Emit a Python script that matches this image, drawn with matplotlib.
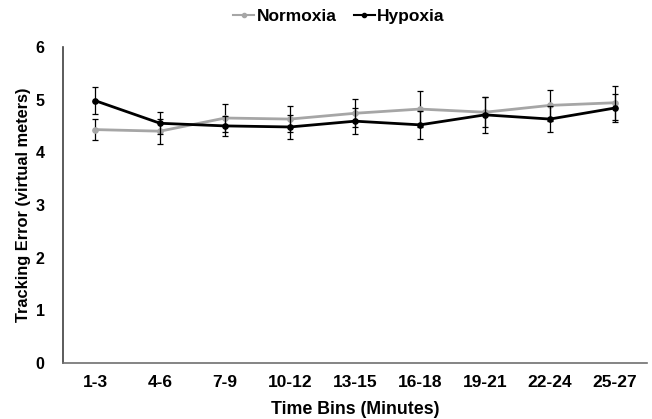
import numpy as np
import matplotlib
matplotlib.use("Agg")
import matplotlib.pyplot as plt
from matplotlib.lines import Line2D

plt.rcParams['font.family'] = ['Liberation Sans', 'DejaVu Sans']
plt.rcParams['font.weight'] = 'bold'

bins = ["1-3", "4-6", "7-9", "10-12", "13-15", "16-18", "19-21", "22-24", "25-27"]
normoxia = [4.43, 4.40, 4.65, 4.63, 4.74, 4.82, 4.76, 4.89, 4.94]
normoxia_err = [0.20, 0.24, 0.26, 0.25, 0.27, 0.35, 0.29, 0.29, 0.32]
hypoxia = [4.98, 4.55, 4.50, 4.48, 4.59, 4.52, 4.71, 4.63, 4.84]
hypoxia_err = [0.26, 0.21, 0.19, 0.23, 0.25, 0.26, 0.34, 0.25, 0.26]

gray = '#A6A6A6'

fig = plt.figure(figsize=(6.52, 4.19), dpi=100)
ax = fig.add_axes([0.096, 0.134, 0.897, 0.754])

x = np.arange(len(bins)) + 0.5

ax.errorbar(x, normoxia, yerr=normoxia_err, color=gray, ecolor='black',
            elinewidth=0.9, capsize=2.2, capthick=0.9, lw=2, marker='o', ms=3.8,
            zorder=3)
ax.errorbar(x, hypoxia, yerr=hypoxia_err, color='black', ecolor='black',
            elinewidth=0.9, capsize=2.2, capthick=0.9, lw=2, marker='o', ms=3.8,
            zorder=4)

ax.set_xlim(0, len(bins))
ax.set_ylim(0, 6)
ax.set_xticks(x)
ax.set_xticklabels(bins, fontsize=12.5)
ax.set_yticks(range(7))
ax.tick_params(axis='x', length=0, pad=9)
ax.tick_params(axis='y', length=0, labelsize=11.5, pad=13)

for s in ['top', 'right']:
    ax.spines[s].set_visible(False)
ax.spines['left'].set_color('#404040')
ax.spines['bottom'].set_color('#707070')
ax.spines['left'].set_linewidth(1.2)
ax.spines['bottom'].set_linewidth(1.2)

ax.set_xlabel('Time Bins (Minutes)', fontsize=12.8, fontweight='bold', labelpad=8)
ax.set_ylabel('Tracking Error (virtual meters)', fontsize=11.8, fontweight='bold', labelpad=3)

handles = [Line2D([], [], color=gray, lw=1.5, marker='o', ms=3),
           Line2D([], [], color='black', lw=1.5, marker='o', ms=3)]
fig.legend(handles, ['Normoxia', 'Hypoxia'], loc='upper center',
           bbox_to_anchor=(0.52, 1.015), ncol=2, frameon=False,
           fontsize=12.5, handlelength=1.2, handletextpad=0.15, columnspacing=1.0)

fig.savefig('out.png', dpi=100)
